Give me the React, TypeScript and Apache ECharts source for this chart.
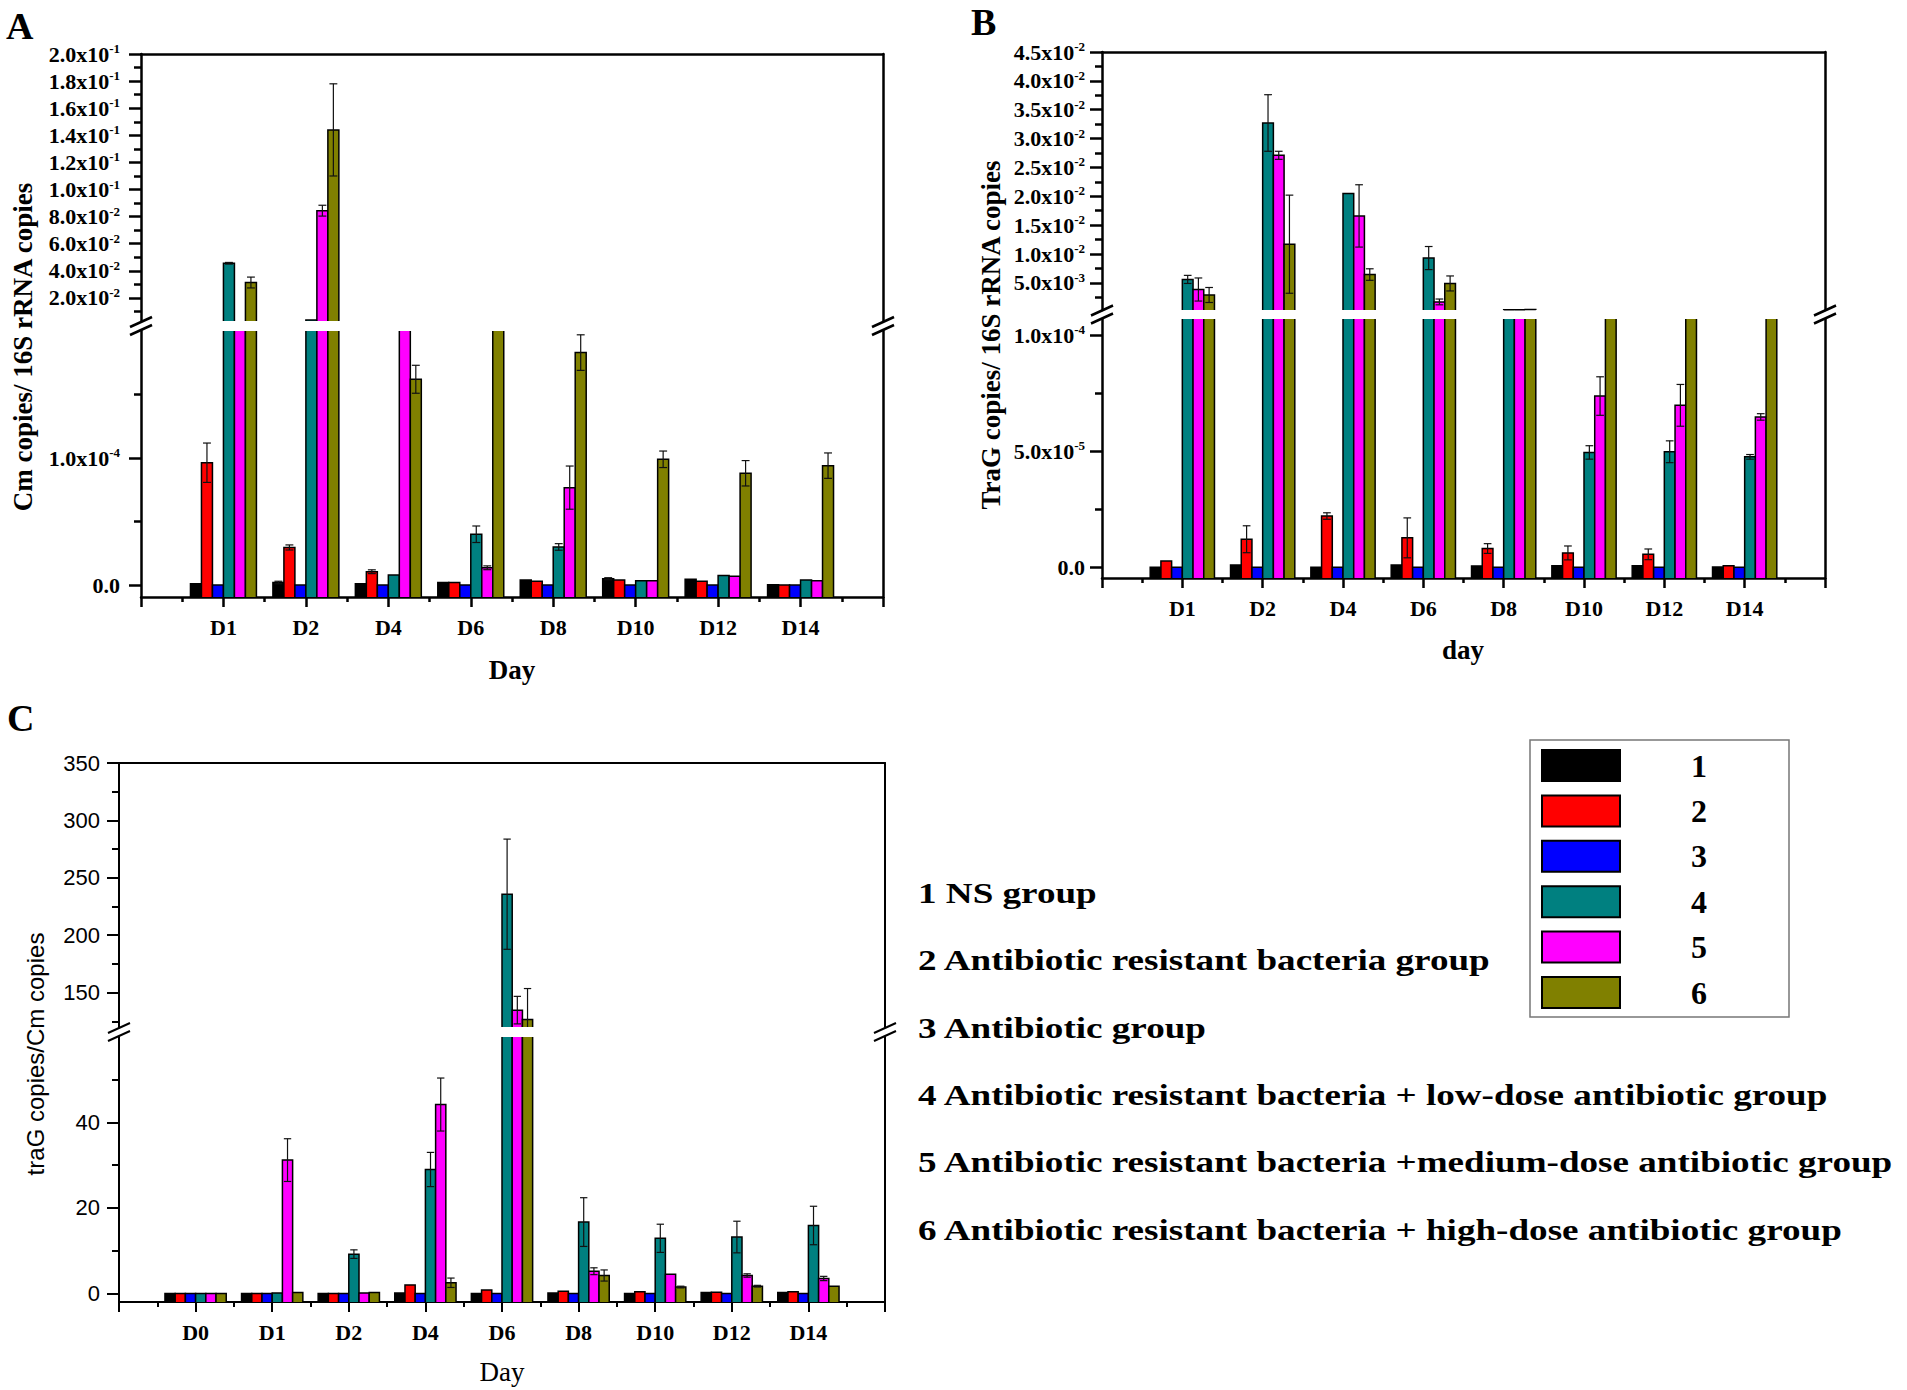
import React, { useEffect, useRef } from 'react';
import * as echarts from 'echarts';

const SERIF = '"Liberation Serif", "Times New Roman", Times, serif';
const SANS = '"Liberation Sans", Arial, Helvetica, sans-serif';

// ---------- groups / legend ----------
const GROUPS = ['1', '2', '3', '4', '5', '6'];
const GROUP_LABELS = [
  '1 NS group',
  '2 Antibiotic resistant bacteria group',
  '3 Antibiotic group',
  '4 Antibiotic resistant bacteria + low-dose antibiotic group',
  '5 Antibiotic resistant bacteria +medium-dose antibiotic group',
  '6 Antibiotic resistant bacteria + high-dose antibiotic group',
];
const COLORS = ['#000000', '#ff0000', '#0000ff', '#008080', '#ff00ff', '#808000'];

// ---------- categories ----------
const DAYS_AB = ['D1', 'D2', 'D4', 'D6', 'D8', 'D10', 'D12', 'D14'];
const DAYS_C = ['D0', 'D1', 'D2', 'D4', 'D6', 'D8', 'D10', 'D12', 'D14'];

// ---------- Panel A : Cm copies / 16S rRNA copies ----------
const A_G1 = [0.000001, 0.000002, 0.000001, 0.000002, 0.000004, 0.000005, 0.0000045, 0.0000003];
const A_E1 = [0, 0.000001, 0, 0, 0, 0.0000008, 0, 0];
const A_G2 = [0.0000963, 0.0000296, 0.0000105, 0.000002, 0.000003, 0.000004, 0.000003, 0.0000001];
const A_E2 = [0.0000155, 0.000002, 0.0000015, 0, 0, 0, 0, 0];
const A_G3 = [0, 0, 0, 0, 0, 0, 0, 0];
const A_E3 = [0, 0, 0, 0, 0, 0, 0, 0];
const A_G4 = [0.0456, 0.0038, 0.0000079, 0.00004, 0.00003, 0.0000034, 0.0000076, 0.000004];
const A_E4 = [0.0006, 0, 0, 0.0000065, 0.0000026, 0, 0, 0];
const A_G5 = [0.002, 0.0844, 0.0015, 0.0000136, 0.0000767, 0.0000034, 0.000007, 0.0000034];
const A_E5 = [0, 0.004, 0, 0.0000015, 0.000017, 0, 0, 0];
const A_G6 = [0.0314, 0.144, 0.000162, 0.002, 0.000183, 0.000099, 0.000088, 0.000094];
const A_E6 = [0.004, 0.034, 0.000011, 0, 0.000014, 0.0000065, 0.00001, 0.00001];

// ---------- Panel B : TraG copies / 16S rRNA copies ----------
const B_G1 = [0, 0.000001, 0, 0.000001, 0.0000006, 0.0000007, 0.0000007, 0.00000015];
const B_E1 = [0, 0, 0, 0, 0, 0, 0, 0];
const B_G2 = [0.0000027, 0.0000121, 0.0000221, 0.0000127, 0.0000081, 0.0000062, 0.0000056, 0.0000007];
const B_E2 = [0, 0.0000058, 0.0000014, 0.0000086, 0.0000021, 0.000003, 0.0000023, 0];
const B_G3 = [0, 0, 0, 0, 0, 0, 0, 0];
const B_E3 = [0, 0, 0, 0, 0, 0, 0, 0];
const B_G4 = [0.0056, 0.0327, 0.0205, 0.0093, 0.00034, 0.0000495, 0.0000498, 0.0000476];
const B_E4 = [0.0007, 0.0049, 0, 0.002, 0, 0.0000029, 0.0000047, 0.000001];
const B_G5 = [0.00385, 0.0271, 0.0166, 0.0017, 0.00034, 0.0000738, 0.0000698, 0.0000648];
const B_E5 = [0.002, 0.0007, 0.0054, 0.0005, 0, 0.0000083, 0.000009, 0.0000014];
const B_G6 = [0.0029, 0.0117, 0.00644, 0.0049, 0.0004, 0.0002, 0.0002, 0.0002];
const B_E6 = [0.0013, 0.0085, 0.001, 0.0013, 0, 0, 0, 0];

// ---------- Panel C : traG copies / Cm copies ----------
const C_G1 = [0, 0, 0, 0.1, 0, 0.1, 0, 0.2, 0.2];
const C_E1 = [0, 0, 0, 0, 0, 0, 0, 0, 0];
const C_G2 = [0, 0, 0, 2.0, 0.8, 0.5, 0.4, 0.3, 0.4];
const C_E2 = [0, 0, 0, 0, 0, 0, 0, 0, 0];
const C_G3 = [0, 0, 0, 0, 0, 0, 0, 0, 0];
const C_E3 = [0, 0, 0, 0, 0, 0, 0, 0, 0];
const C_G4 = [0, 0.1, 9.2, 29.0, 235.7, 16.7, 12.9, 13.2, 15.9];
const C_E4 = [0, 0, 1.0, 4.0, 48, 5.7, 3.3, 3.7, 4.5];
const C_G5 = [0, 31.2, 0.1, 44.2, 134.7, 5.2, 4.5, 4.2, 3.5];
const C_E5 = [0, 5.0, 0, 6.2, 12, 0.8, 0, 0.4, 0.5];
const C_G6 = [0, 0.2, 0.2, 2.5, 126.5, 4.2, 1.5, 1.7, 1.7];
const C_E6 = [0, 0, 0, 1.1, 27, 1.3, 0.2, 0.2, 0];

// ---------- tick values ----------
const A_UP_LABELS = [0.02, 0.04, 0.06, 0.08, 0.1, 0.12, 0.14, 0.16, 0.18, 0.2];
const A_UP_MINORS = [0.01, 0.03, 0.05, 0.07, 0.09, 0.11, 0.13, 0.15, 0.17, 0.19];
const A_LO_LABELS = [0, 0.0001];
const A_LO_MINORS = [0.00005, 0.00015];
const B_UP_LABELS = [0.005, 0.01, 0.015, 0.02, 0.025, 0.03, 0.035, 0.04, 0.045];
const B_UP_MINORS = [0.0025, 0.0075, 0.0125, 0.0175, 0.0225, 0.0275, 0.0325, 0.0375, 0.0425];
const B_LO_LABELS = [0, 0.00005, 0.0001];
const B_LO_MINORS = [0.000025, 0.000075];
const C_UP_LABELS = [150, 200, 250, 300, 350];
const C_UP_MINORS = [125, 175, 225, 275, 325];
const C_LO_LABELS = [0, 20, 40];
const C_LO_MINORS = [10, 30, 50];

const BAR_FRAC = 0.8 / 6;

type Part = { top: number; height: number; min: number; max: number; labels: number[]; minors: number[] };
type Panel = {
  left: number; width: number; xMax: number; days: string[]; vals: number[][]; errs: number[][];
  lineW: number; sci: boolean; labelMargin: number; majorTick: number; minorTick: number;
  upper: Part; lower: Part;
};

const PANELS: Panel[] = [
  {
    left: 141, width: 742, xMax: 9, days: DAYS_AB,
    vals: [A_G1, A_G2, A_G3, A_G4, A_G5, A_G6], errs: [A_E1, A_E2, A_E3, A_E4, A_E5, A_E6],
    lineW: 2.5, sci: true, labelMargin: 21, majorTick: 12, minorTick: 7,
    upper: { top: 54, height: 267, min: 0.003, max: 0.2, labels: A_UP_LABELS, minors: A_UP_MINORS },
    lower: { top: 331, height: 266, min: -0.0000094, max: 0.0002, labels: A_LO_LABELS, minors: A_LO_MINORS },
  },
  {
    left: 1102, width: 723, xMax: 9, days: DAYS_AB,
    vals: [B_G1, B_G2, B_G3, B_G4, B_G5, B_G6], errs: [B_E1, B_E2, B_E3, B_E4, B_E5, B_E6],
    lineW: 2.5, sci: true, labelMargin: 17, majorTick: 12, minorTick: 7,
    upper: { top: 52, height: 258, min: 0.0003, max: 0.045, labels: B_UP_LABELS, minors: B_UP_MINORS },
    lower: { top: 319, height: 259, min: -0.0000046, max: 0.000107, labels: B_LO_LABELS, minors: B_LO_MINORS },
  },
  {
    left: 119, width: 766, xMax: 10, days: DAYS_C,
    vals: [C_G1, C_G2, C_G3, C_G4, C_G5, C_G6], errs: [C_E1, C_E2, C_E3, C_E4, C_E5, C_E6],
    lineW: 2, sci: false, labelMargin: 19, majorTick: 12, minorTick: 7,
    upper: { top: 763, height: 264, min: 120, max: 350, labels: C_UP_LABELS, minors: C_UP_MINORS },
    lower: { top: 1037, height: 265, min: -2, max: 60, labels: C_LO_LABELS, minors: C_LO_MINORS },
  },
];

const SCI_RICH = {
  m: { fontFamily: SERIF, fontWeight: 'bold', fontSize: 22, color: '#000', lineHeight: 24 },
  e: { fontFamily: SERIF, fontWeight: 'bold', fontSize: 13, color: '#000', lineHeight: 13, verticalAlign: 'top' },
};

function sciLabel(v: number) {
  if (Math.abs(v) < 1e-12) return '{m|0.0}';
  const e = Math.floor(Math.log10(v) + 1e-9);
  const m = v / Math.pow(10, e);
  return `{m|${m.toFixed(1)}x10}{e|${e}}`;
}

function seg(x1: number, y1: number, x2: number, y2: number, w: number, color = '#000') {
  return { type: 'line', shape: { x1, y1, x2, y2 }, style: { stroke: color, lineWidth: w, fill: 'none' } };
}

function makeRenderer(k: number, part: Part) {
  return function (params: any, api: any) {
    const pos = api.value(0);
    const v = api.value(1);
    const err = api.value(2) || 0;
    const cs = params.coordSys;
    const top = cs.y;
    const bottom = cs.y + cs.height;
    const unit = Math.abs(api.coord([1, part.min])[0] - api.coord([0, part.min])[0]);
    const bw = unit * BAR_FRAC;
    const cx = api.coord([pos, part.min])[0] + (k - 2.5) * bw;
    const x0 = cx - bw / 2;
    const x1 = cx + bw / 2;
    const children: any[] = [];
    const yv = api.coord([pos, v])[1];
    if (yv < bottom) {
      const clipped = yv < top;
      const yt = clipped ? top : yv;
      children.push({ type: 'rect', shape: { x: x0, y: yt, width: bw, height: bottom - yt }, style: { fill: COLORS[k], stroke: 'none' } });
      if (clipped) {
        children.push(seg(x0, yt, x0, bottom, 1.5), seg(x1, yt, x1, bottom, 1.5));
      } else {
        children.push({
          type: 'polyline',
          shape: { points: [[x0, bottom], [x0, yt], [x1, yt], [x1, bottom]] },
          style: { stroke: '#000', lineWidth: 1.5, fill: 'none' },
        });
      }
    }
    if (err > 0 && v >= part.min && v <= part.max) {
      const yHi = api.coord([pos, v + err])[1];
      const yLo = api.coord([pos, v - err])[1];
      const a = Math.max(yHi, top);
      const b = Math.min(yLo, bottom);
      const cw = bw * 0.36;
      children.push(seg(cx, a, cx, b, 1.2, '#111'));
      if (yHi >= top) children.push(seg(cx - cw, yHi, cx + cw, yHi, 1.2, '#111'));
      if (yLo <= bottom) children.push(seg(cx - cw, yLo, cx + cw, yLo, 1.2, '#111'));
    }
    return { type: 'group', children };
  };
}

function breakMark(x: number, yMid: number, w: number) {
  return [-4, 4].map((d) => ({
    type: 'line', z: 100,
    shape: { x1: x - 11, y1: yMid + d + 5, x2: x + 11, y2: yMid + d - 5 },
    style: { stroke: '#000', lineWidth: w },
  }));
}

function txt(text: string, x: number, y: number, size: number, opts: any = {}) {
  const align = opts.align || 'center';
  const valign = opts.valign || 'middle';
  return {
    type: 'text', x, y, z: 100,
    rotation: opts.rotation || 0,
    scaleX: opts.scaleX || 1,
    style: {
      text, fill: '#000', fontSize: size,
      fontFamily: opts.family || SERIF, fontWeight: opts.weight || 'bold',
      align, verticalAlign: valign, textAlign: align, textVerticalAlign: valign,
    },
  };
}

function buildOption() {
  const grid: any[] = [];
  const xAxis: any[] = [];
  const yAxis: any[] = [];
  const series: any[] = [];
  const graphic: any[] = [];

  PANELS.forEach((p) => {
    const lineStyle = { color: '#000', width: p.lineW };
    [p.upper, p.lower].forEach((part, partIdx) => {
      const isLower = partIdx === 1;
      const gi = grid.length;
      grid.push({ left: p.left, top: part.top, width: p.width, height: part.height, containLabel: false, outerBoundsMode: 'none', show: false });
      const xi = xAxis.length;
      xAxis.push({
        type: 'value', gridIndex: gi, min: 0, max: p.xMax, interval: 1,
        position: isLower ? 'bottom' : 'top',
        axisLine: { show: true, onZero: false, lineStyle },
        axisTick: { show: isLower, inside: false, length: 10, lineStyle },
        minorTick: { show: isLower, splitNumber: 2, length: 5, lineStyle },
        axisLabel: {
          show: isLower, margin: 19, color: '#000', fontFamily: SERIF, fontWeight: 'bold', fontSize: 22,
          formatter: (v: number) => p.days[Math.round(v) - 1] ?? '',
        },
        splitLine: { show: false }, minorSplitLine: { show: false },
      });
      const yi = yAxis.length;
      yAxis.push({
        type: 'value', gridIndex: gi, min: part.min, max: part.max, position: 'left',
        axisLine: { show: true, onZero: false, lineStyle },
        axisTick: { show: true, inside: false, length: p.majorTick, customValues: part.labels, lineStyle },
        axisLabel: p.sci
          ? { show: true, customValues: part.labels, margin: p.labelMargin, color: '#000', formatter: sciLabel, rich: SCI_RICH }
          : { show: true, customValues: part.labels, margin: p.labelMargin, color: '#000', fontFamily: SANS, fontSize: 22, formatter: (v: number) => String(v) },
        splitLine: { show: false },
      });
      yAxis.push({
        type: 'value', gridIndex: gi, min: part.min, max: part.max, position: 'left',
        axisLine: { show: false },
        axisTick: { show: true, inside: false, length: p.minorTick, customValues: part.minors, lineStyle },
        axisLabel: { show: false }, splitLine: { show: false },
      });
      yAxis.push({
        type: 'value', gridIndex: gi, min: part.min, max: part.max, position: 'right',
        axisLine: { show: true, onZero: false, lineStyle },
        axisTick: { show: false }, axisLabel: { show: false }, splitLine: { show: false },
      });
      p.vals.forEach((vals, k) => {
        series.push({
          type: 'custom', name: GROUPS[k], coordinateSystem: 'cartesian2d',
          xAxisIndex: xi, yAxisIndex: yi, silent: true,
          itemStyle: { color: COLORS[k], borderColor: '#000', borderWidth: 1.5 },
          encode: { x: 0, y: 1 },
          data: p.days.map((_d, i) => [i + 1, vals[i], p.errs[k][i]]),
          renderItem: makeRenderer(k, part),
        });
      });
    });
    const yMid = (p.upper.top + p.upper.height + p.lower.top) / 2;
    graphic.push(...breakMark(p.left, yMid, p.lineW), ...breakMark(p.left + p.width, yMid, p.lineW));
  });

  // panel letters
  graphic.push(txt('A', 6, 7, 38, { align: 'left', valign: 'top' }));
  graphic.push(txt('B', 971, 3, 38, { align: 'left', valign: 'top' }));
  graphic.push(txt('C', 7, 699, 38, { align: 'left', valign: 'top' }));
  // axis titles
  graphic.push(txt('Cm copies/ 16S rRNA copies', 23, 347, 27, { rotation: Math.PI / 2 }));
  graphic.push(txt('TraG copies/ 16S rRNA copies', 991, 335, 27, { rotation: Math.PI / 2 }));
  graphic.push(txt('traG copies/Cm copies', 35, 1054, 24, { rotation: Math.PI / 2, family: SANS, weight: 'normal' }));
  graphic.push(txt('Day', 512, 670, 27));
  graphic.push(txt('day', 1463, 650, 27));
  graphic.push(txt('Day', 502, 1372, 27, { weight: 'normal' }));
  // group descriptions
  const descY = [893, 960, 1028, 1095, 1162, 1230];
  GROUP_LABELS.forEach((t, i) => {
    graphic.push(txt(t, 918, descY[i], 29, { align: 'left', scaleX: 1.28 }));
  });

  return {
    animation: false,
    backgroundColor: '#ffffff',
    grid, xAxis, yAxis, series, graphic,
    legend: {
      data: GROUPS, orient: 'vertical', left: 1530, top: 740,
      icon: 'rect', itemWidth: 78, itemHeight: 31, itemGap: 12.4,
      padding: [9, 82, 8, 11], backgroundColor: '#ffffff', borderColor: '#777777', borderWidth: 1.5,
      selectedMode: false,
      itemStyle: { borderColor: '#000', borderWidth: 2 },
      textStyle: { fontFamily: SERIF, fontWeight: 'bold', fontSize: 32, color: '#000', lineHeight: 31, padding: [0, 0, 0, 66] },
    },
  };
}

export default function App() {
  const ref = useRef<HTMLDivElement>(null);
  useEffect(() => {
    if (!ref.current) return;
    const chart = echarts.init(ref.current, null, { renderer: 'svg' });
    chart.setOption(buildOption() as any);
    return () => chart.dispose();
  }, []);
  return (
    <div
      ref={ref}
      style={{ position: 'absolute', left: 0, top: 0, width: 1907, height: 1390, background: '#ffffff' }}
    />
  );
}
